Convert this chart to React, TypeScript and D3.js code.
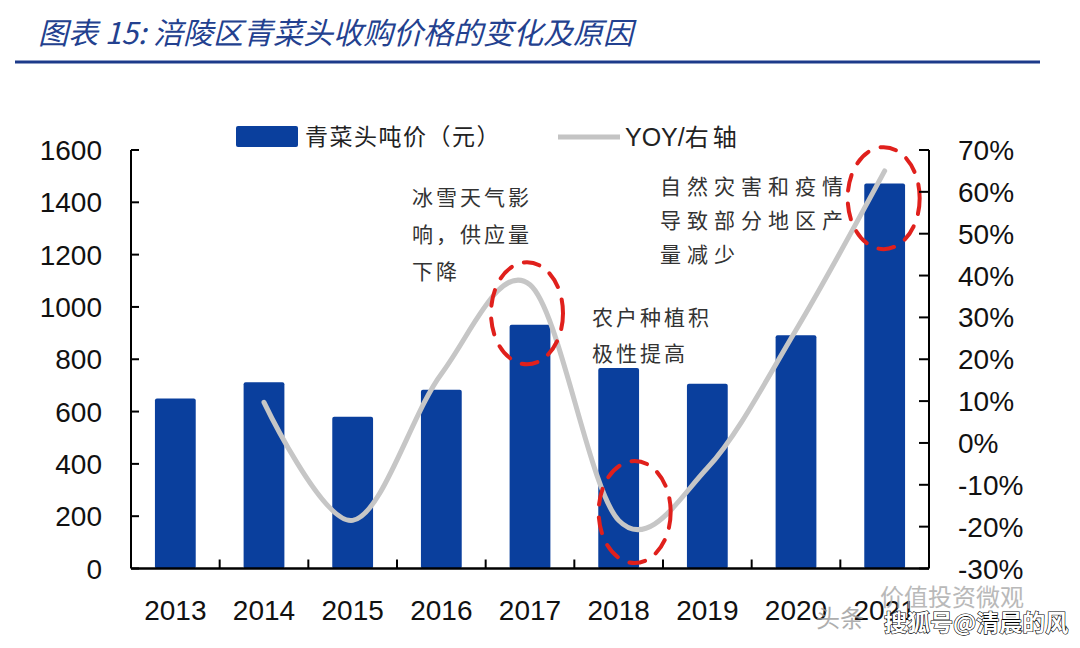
import React from "react";
import * as d3 from "d3";

const years = ["2013", "2014", "2015", "2016", "2017", "2018", "2019", "2020", "2021"];
const prices = [650, 712, 580, 683, 932, 767, 706, 892, 1472];
const yoyYears = ["2014", "2015", "2016", "2017", "2018", "2019", "2020", "2021"];
const yoy = [9.7, -18.5, 16.5, 37.8, -18.5, -6, 27, 65];
const leftTicks = [0, 200, 400, 600, 800, 1000, 1200, 1400, 1600];
const rightTicks = [-30, -20, -10, 0, 10, 20, 30, 40, 50, 60, 70];
const highlightYears = ["2017", "2018", "2021"];
const highlightYoy = [31, -16.5, 58.5];
const notes = [
  { lines: ["冰雪天气影", "响，供应量", "下降"], x: 412, y: 205, ls: 3, lh: 37 },
  { lines: ["农户种植积", "极性提高"], x: 592, y: 325, ls: 3, lh: 36 },
  { lines: ["自然灾害和疫情", "导致部分地区产", "量减少"], x: 660, y: 194, ls: 6, lh: 34 },
];

const W = 1080, H = 648;
const L = 131, R = 929, T = 150, B = 568.5;
const BLUE = "#0a3f9d";
const NUM_FONT = "'Liberation Sans', Arial, sans-serif";
const CJK = "'Noto Sans CJK SC', sans-serif";

export default function App() {
  const x = d3.scaleBand<string>().domain(years).range([L, R]).paddingInner(0.54).paddingOuter(0.27);
  const yL = d3.scaleLinear().domain([0, 1600]).range([B, T]);
  const yR = d3.scaleLinear().domain([-30, 70]).range([B, T]);
  const cx = (yr: string) => (x(yr) as number) + x.bandwidth() / 2;
  const step = (R - L) / years.length;

  const line = d3
    .line<number>()
    .x((_, i) => cx(yoyYears[i]))
    .y((d) => yR(d))
    .curve(d3.curveCatmullRom.alpha(0));

  const ellipseDx: Record<string, number> = { "2017": -3, "2018": 16, "2021": -1 };

  return (
    <svg width={W} height={H} style={{ position: "absolute", left: 0, top: 0, background: "#fff" }}>
      {/* Title */}
      <text x={38} y={44} fontFamily={CJK} fontSize={30} fontStyle="italic" fill="#23418f">
        图表 15:  涪陵区青菜头收购价格的变化及原因
      </text>
      <line x1={15} x2={1040} y1={62} y2={62} stroke="#1c3a8a" strokeWidth={3} />

      {/* Legend */}
      <rect x={236} y={126} width={62} height={21} fill={BLUE} rx={2} />
      <text x={305} y={145} fontFamily={CJK} fontSize={23} fill="#222" letterSpacing={1.5}>青菜头吨价（元）</text>
      <line x1={558} x2={620} y1={137} y2={137} stroke="#c4c4c4" strokeWidth={5} />
      <text x={625} y={146} fontFamily={NUM_FONT} fontSize={25} fill="#222">
        YOY/<tspan fontFamily={CJK} fontSize={24} letterSpacing={4}>右轴</tspan>
      </text>

      {/* Bars */}
      {years.map((yr, i) => (
        <rect
          key={yr}
          x={x(yr)}
          y={yL(prices[i])}
          width={x.bandwidth()}
          height={B - yL(prices[i])}
          fill={BLUE}
          rx={2}
        />
      ))}

      {/* YOY line */}
      <path d={line(yoy) || ""} fill="none" stroke="#c6c6c6" strokeWidth={5} strokeLinecap="round" />

      {/* Highlight ellipses */}
      {highlightYears.map((yr, i) => (
        <ellipse
          key={yr}
          cx={cx(yr) + ellipseDx[yr]}
          cy={yR(highlightYoy[i])}
          rx={36}
          ry={51}
          fill="none"
          stroke="#e0201c"
          strokeWidth={4}
          strokeDasharray="16 13"
          strokeLinecap="round"
        />
      ))}

      {/* Axes */}
      <line x1={L} x2={L} y1={T} y2={B} stroke="#000" strokeWidth={2} />
      <line x1={R} x2={R} y1={T} y2={B} stroke="#000" strokeWidth={2} />
      <line x1={L} x2={R} y1={B} y2={B} stroke="#000" strokeWidth={2.5} />
      {leftTicks.map((t) => (
        <g key={"l" + t}>
          <line x1={L} x2={L + 8} y1={yL(t)} y2={yL(t)} stroke="#000" strokeWidth={2} />
          <text x={102} y={yL(t) + 10} textAnchor="end" fontFamily={NUM_FONT} fontSize={28} fill="#111">
            {t}
          </text>
        </g>
      ))}
      {rightTicks.map((t) => (
        <g key={"r" + t}>
          <line x1={R - 10} x2={R} y1={yR(t)} y2={yR(t)} stroke="#000" strokeWidth={2} />
          <text x={958} y={yR(t) + 10} fontFamily={NUM_FONT} fontSize={28} fill="#111">
            {t + "%"}
          </text>
        </g>
      ))}
      {years.slice(1).map((yr, i) => (
        <line key={"xt" + yr} x1={L + step * (i + 1)} x2={L + step * (i + 1)} y1={B} y2={B - 9} stroke="#000" strokeWidth={2} />
      ))}
      {years.map((yr) => (
        <text key={"xl" + yr} x={cx(yr)} y={620} textAnchor="middle" fontFamily={NUM_FONT} fontSize={28} fill="#111">
          {yr}
        </text>
      ))}

      {/* Annotations */}
      {notes.map((n, k) =>
        n.lines.map((ln, j) => (
          <text
            key={k + "-" + j}
            x={n.x}
            y={n.y + j * n.lh}
            fontFamily={CJK}
            fontSize={21}
            fill="#333"
            letterSpacing={n.ls}
          >
            {ln}
          </text>
        ))
      )}

      {/* Watermarks */}
      <text x={816} y={627} fontFamily={CJK} fontSize={24} fill="#9a9a9a" opacity={0.8}>头条</text>
      <text x={880} y={606} fontFamily={CJK} fontSize={24} fill="#a8a8a8" opacity={0.8}>价值投资微观</text>
      <text
        x={884}
        y={631}
        fontFamily={CJK}
        fontSize={23}
        fontWeight="bold"
        fill="#fff"
        stroke="#000"
        strokeWidth={1.2}
        paintOrder="stroke"
      >
        搜狐号@清晨的风
      </text>
    </svg>
  );
}
